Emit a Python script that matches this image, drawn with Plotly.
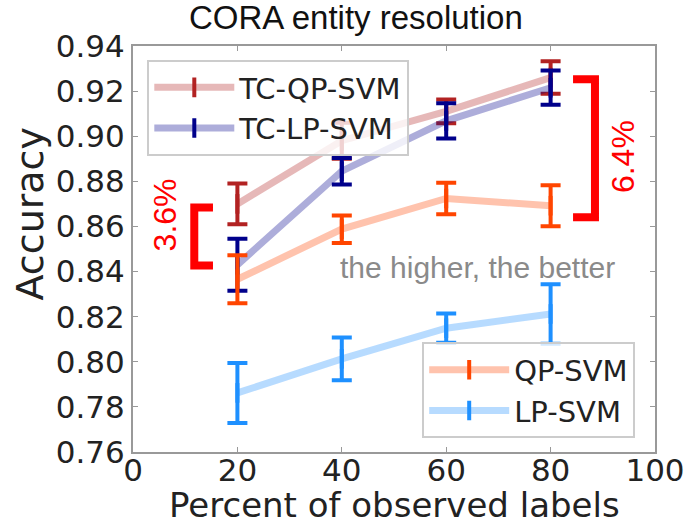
import plotly.graph_objects as go

# ---- data ----
x_pct = [20, 40, 60, 80]
tc_qp = [0.870, 0.898, 0.911, 0.926]
tc_qp_err = [0.009, 0.008, 0.0053, 0.0072]
tc_lp = [0.843, 0.8845, 0.9068, 0.9215]
tc_lp_err = [0.0115, 0.0059, 0.0078, 0.0076]
qp = [0.8366, 0.8588, 0.8724, 0.8692]
qp_err = [0.0106, 0.0061, 0.007, 0.0091]
lp = [0.7862, 0.8013, 0.8149, 0.8212]
lp_err = [0.0133, 0.0095, 0.0065, 0.0132]

x_ticks = [0, 20, 40, 60, 80, 100]
y_ticks = [0.76, 0.78, 0.80, 0.82, 0.84, 0.86, 0.88, 0.90, 0.92, 0.94]

series = [
    ("TC-QP-SVM", tc_qp, tc_qp_err, "#b22222", "rgba(178,34,34,0.32)", "legend"),
    ("TC-LP-SVM", tc_lp, tc_lp_err, "#00008b", "rgba(0,0,139,0.32)", "legend"),
    ("QP-SVM", qp, qp_err, "#ff4500", "rgba(255,69,0,0.32)", "legend2"),
    ("LP-SVM", lp, lp_err, "#1e90ff", "rgba(30,144,255,0.32)", "legend2"),
]

fig = go.Figure()
for name, y, e, col, lcol, lg in series:
    fig.add_trace(go.Scatter(
        x=x_pct, y=y, name=name, mode="lines+markers",
        line=dict(color=lcol, width=7),
        marker=dict(symbol="line-ns", size=14, line=dict(color=col, width=4), color=col),
        error_y=dict(type="data", array=e, visible=True, color=col, thickness=4, width=10),
        legend=lg,
    ))

red = "#ff0000"
# brackets (paper coordinates)
fig.add_shape(type="path", xref="paper", yref="paper",
              path="M 0.843,0.918 L 0.885,0.918 L 0.885,0.578 L 0.843,0.578",
              line=dict(color=red, width=8))
fig.add_shape(type="path", xref="paper", yref="paper",
              path="M 0.1532,0.602 L 0.1174,0.602 L 0.1174,0.4593 L 0.1532,0.4593",
              line=dict(color=red, width=8))

ann = dict(xref="paper", yref="paper", showarrow=False, xanchor="center", yanchor="middle")
fig.add_annotation(text="6.4%", x=0.9387, y=0.7264, textangle=-90,
                   font=dict(family="Liberation Sans, Arial", size=32, color=red), **ann)
fig.add_annotation(text="3.6%", x=0.0618, y=0.5834, textangle=-90,
                   font=dict(family="Liberation Sans, Arial", size=32, color=red), **ann)
fig.add_annotation(text="the higher, the better", x=0.660, y=0.4533,
                   font=dict(family="Liberation Sans, Arial", size=30, color="#8a8a8a"), **ann)
fig.add_annotation(text="CORA entity resolution", x=0.4275, y=1.069,
                   font=dict(family="Liberation Sans, Arial", size=33, color="#111"), **ann)
fig.add_annotation(text="Accuracy", x=-0.1966, y=0.5884, textangle=-90,
                   font=dict(family="DejaVu Sans", size=38, color="#222"), **ann)
fig.add_annotation(text="Percent of observed labels", x=0.5, y=-0.1314,
                   font=dict(family="DejaVu Sans", size=34, color="#222"), **ann)

axis_common = dict(showline=True, mirror="allticks", linecolor="#999", linewidth=2,
                   ticks="inside", ticklen=5, tickcolor="#999", showgrid=False,
                   zeroline=False, tickfont=dict(family="DejaVu Sans", size=31, color="#222"))

fig.update_xaxes(range=[0, 100], tickvals=x_ticks, ticklabelstandoff=-10, **axis_common)
fig.update_yaxes(range=[0.76, 0.94], tickvals=y_ticks, tickformat=".2f", **axis_common)

leg_common = dict(font=dict(family="DejaVu Sans", size=29, color="#222"),
                  bgcolor="rgba(255,255,255,0.8)", bordercolor="#cccccc", borderwidth=2,
                  xanchor="left", yanchor="top", itemwidth=80)
fig.update_layout(
    width=689, height=526,
    margin=dict(l=133, r=34, t=46, b=74, autoexpand=False),
    paper_bgcolor="white", plot_bgcolor="white",
    showlegend=True,
    legend=dict(x=0.0274, y=0.9655, **leg_common),
    legend2=dict(x=0.554, y=0.270, **leg_common),
)

fig.write_html("out.html")
